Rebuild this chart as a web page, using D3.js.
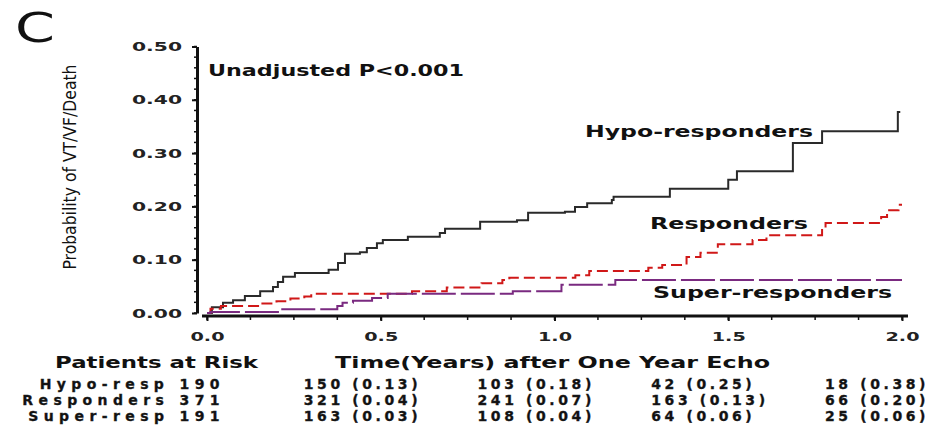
<!DOCTYPE html>
<html lang="en">
<head>
<meta charset="UTF-8">
<title>VT/VF/Death by response group</title>
<script src="https://cdnjs.cloudflare.com/ajax/libs/d3/7.8.5/d3.min.js"></script>
<style>
  body { margin: 0; background: #fff; }
  svg { display: block; }
  text { font-family: "DejaVu Sans", sans-serif; font-weight: bold; fill: #111; }
  .axis path, .axis line { stroke: #111; }
  .axis text { font-size: 13px; fill: #222; }
  .risk text { stroke: #222; stroke-width: 0.35; }
</style>
</head>
<body>
<svg id="chart" width="936" height="425"></svg>
<script>
// step points: [years, probability]
const hypoSteps = [[0,0],[0.014,0.011],[0.046,0.019],[0.075,0.024],[0.109,0.032],[0.153,0.041],
  [0.19,0.049],[0.204,0.058],[0.219,0.068],[0.253,0.075],[0.35,0.081],[0.377,0.094],[0.397,0.111],
  [0.44,0.114],[0.46,0.122],[0.489,0.131],[0.506,0.137],[0.578,0.143],[0.67,0.15],[0.685,0.158],
  [0.786,0.171],[0.892,0.174],[0.924,0.188],[1.03,0.19],[1.059,0.199],[1.094,0.206],[1.165,0.212],
  [1.17,0.218],[1.332,0.233],[1.5,0.25],[1.525,0.266],[1.686,0.319],[1.77,0.341],[1.988,0.377],[1.995,0.377]];
const respSteps = [[0,0],[0.01,0.008],[0.04,0.013],[0.15,0.018],[0.2,0.022],[0.24,0.027],[0.28,0.031],
  [0.3,0.036],[0.59,0.041],[0.69,0.048],[0.79,0.056],[0.85,0.062],[0.87,0.066],[1.06,0.071],[1.1,0.079],
  [1.27,0.085],[1.31,0.09],[1.38,0.105],[1.42,0.113],[1.47,0.129],[1.57,0.137],[1.61,0.146],
  [1.77,0.159],[1.78,0.169],[1.94,0.18],[1.957,0.193],[1.99,0.203],[2.0,0.203]];
const superSteps = [[0,0],[0.01,0.002],[0.21,0.007],[0.375,0.013],[0.39,0.019],[0.42,0.023],
  [0.475,0.028],[0.52,0.036],[0.88,0.041],[1.02,0.053],[1.175,0.062],[2.0,0.062]];

const yTicks = [0, 0.1, 0.2, 0.3, 0.4, 0.5];
const xTicks = [0, 0.5, 1.0, 1.5, 2.0];
const riskTimes = [0.5, 1.0, 1.5, 2.0];
const riskNames = ["Hypo-resp 190", "Responders 371", "Super-resp 191"];
const hypoRisk = ["150 (0.13)", "103 (0.18)", "42 (0.25)", "18 (0.38)"];
const respRisk = ["321 (0.04)", "241 (0.07)", "163 (0.13)", "66 (0.20)"];
const superRisk = ["163 (0.03)", "108 (0.04)", "64 (0.06)", "25 (0.06)"];

const svg = d3.select("#chart");

const x = d3.scaleLinear().domain([0, 2]).range([207, 902]);
const y = d3.scaleLinear().domain([0, 0.5]).range([313, 46.5]);

// panel letter
svg.append("text").attr("x", 15).attr("y", 42)
  .attr("font-size", 41).style("font-weight", "normal")
  .attr("textLength", 40).attr("lengthAdjust", "spacingAndGlyphs")
  .text("C");

// y axis
const yAxis = svg.append("g").attr("class", "axis")
  .attr("transform", "translate(197,0)")
  .call(d3.axisLeft(y).tickValues(yTicks).tickFormat(d3.format(".2f")).tickSize(5).tickSizeOuter(0).tickPadding(10));
yAxis.select(".domain").attr("stroke-width", 3);
yAxis.selectAll(".tick line").attr("stroke-width", 2);
yAxis.selectAll(".tick text").attr("textLength", 50).attr("lengthAdjust", "spacingAndGlyphs");
yAxis.append("g").selectAll("line")
  .data(d3.range(0, 0.501, 0.02))
  .join("line")
  .attr("x1", -3).attr("x2", 0)
  .attr("y1", d => y(d)).attr("y2", d => y(d))
  .attr("stroke", "#111").attr("stroke-width", 1.5);

// x axis
const xAxis = svg.append("g").attr("class", "axis")
  .attr("transform", "translate(0,316)")
  .call(d3.axisBottom(x).tickValues(xTicks).tickFormat(d3.format(".1f")).tickSize(5).tickSizeOuter(0).tickPadding(11));
xAxis.select(".domain").remove();
xAxis.append("line")
  .attr("x1", x(0) - 5).attr("x2", x(2) + 6)
  .attr("stroke", "#111").attr("stroke-width", 3);
xAxis.selectAll(".tick line").attr("stroke-width", 2);
xAxis.selectAll(".tick text").attr("textLength", 34).attr("lengthAdjust", "spacingAndGlyphs");
xAxis.append("g").selectAll("line")
  .data(d3.range(0, 2.001, 0.125))
  .join("line")
  .attr("x1", d => x(d)).attr("x2", d => x(d))
  .attr("y1", 0).attr("y2", 4)
  .attr("stroke", "#333").attr("stroke-width", 1.5);

// curves
const line = d3.line()
  .x(d => x(d[0]))
  .y(d => y(d[1]))
  .curve(d3.curveStepAfter);

svg.append("path").datum(hypoSteps)
  .attr("d", line).attr("fill", "none")
  .attr("stroke", "#2a2a2a").attr("stroke-width", 2);
svg.append("path").datum(respSteps)
  .attr("d", line).attr("fill", "none")
  .attr("stroke", "#d01818").attr("stroke-width", 2)
  .attr("stroke-dasharray", "11,5");
svg.append("path").datum(superSteps)
  .attr("d", line).attr("fill", "none")
  .attr("stroke", "#7a2a80").attr("stroke-width", 2)
  .attr("stroke-dasharray", "34,5");

// in-plot labels
function label(txt, lx, ly, len, size) {
  svg.append("text").attr("x", lx).attr("y", ly)
    .attr("font-size", size)
    .attr("textLength", len).attr("lengthAdjust", "spacingAndGlyphs")
    .text(txt);
}
label("Unadjusted P<0.001", 208, 76, 256, 15);
label("Hypo-responders", 585, 137, 228, 16);
label("Responders", 650, 229, 158, 16);
label("Super-responders", 653, 298, 239, 16);

// y label
svg.append("text")
  .attr("transform", "translate(76,167) rotate(-90)")
  .attr("text-anchor", "middle")
  .attr("font-size", 18)
  .style("font-family", "'DejaVu Sans Condensed', 'DejaVu Sans', sans-serif")
  .style("font-weight", "normal")
  .attr("textLength", 205).attr("lengthAdjust", "spacingAndGlyphs")
  .text("Probability of VT/VF/Death");

// table headers
label("Patients at Risk", 55, 368, 203, 15);
label("Time(Years) after One Year Echo", 335, 368, 435, 15);

// patients at risk rows
const rowY = [389, 405, 421];
const risk = svg.append("g").attr("class", "risk");
risk.append("g").selectAll("text")
  .data(riskNames)
  .join("text")
  .attr("x", x(0) + 18)
  .attr("y", (d, i) => rowY[i])
  .attr("text-anchor", "end")
  .attr("font-size", 14)
  .attr("letter-spacing", 5.4)
  .attr("fill", "#333")
  .text(d => d);

[hypoRisk, respRisk, superRisk].forEach((row, i) => {
  risk.append("g").selectAll("text")
    .data(row)
    .join("text")
    .attr("x", (d, j) => x(riskTimes[j]) - 77)
    .attr("y", rowY[i])
    .attr("font-size", 14)
    .attr("letter-spacing", 3.6)
    .attr("fill", "#222")
    .text(d => d);
});
</script>
</body>
</html>
